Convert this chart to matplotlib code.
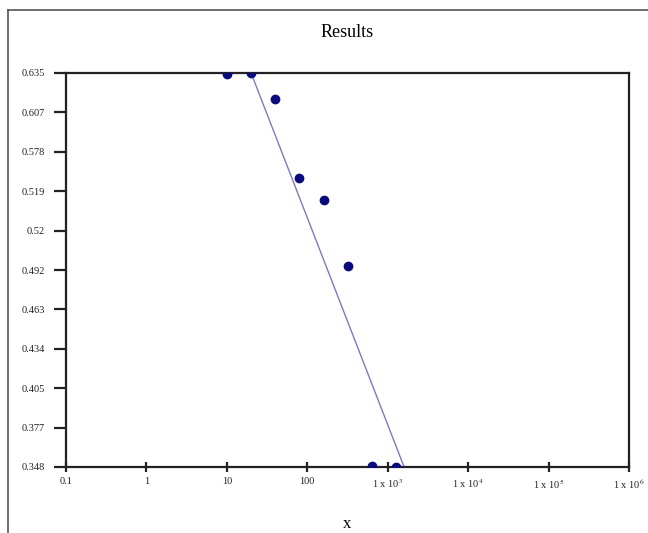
import matplotlib
matplotlib.use("Agg")
import matplotlib.pyplot as plt
from matplotlib.lines import Line2D
import numpy as np

x_points = [10, 20, 40, 80, 160, 320, 640, 1280]
y_points = [0.634, 0.635, 0.616, 0.5585, 0.5425, 0.4944, 0.3487, 0.348]

fit_x = [20, 1600]
fit_y = [0.635, 0.348]

y_tick_labels = ["0.635", "0.607", "0.578", "0.519", "0.52", "0.492",
                 "0.463", "0.434", "0.405", "0.377", "0.348"]
x_ticks = [0.1, 1, 10, 100, 1e3, 1e4, 1e5, 1e6]
x_tick_labels = ["0.1", "1", "10", "100", r"1 x 10$^{3}$", r"1 x 10$^{4}$",
                 r"1 x 10$^{5}$", r"1 x 10$^{6}$"]

plt.rcParams['font.family'] = ['Liberation Serif', 'DejaVu Serif']
plt.rcParams['mathtext.fontset'] = 'stix'

fig = plt.figure(figsize=(6.48, 5.33), dpi=100)
ax = fig.add_axes([66/648, 1-467/533, (629-66)/648, (467-73)/533])

ax.plot(fit_x, fit_y, color="#7878dc", lw=1.0, zorder=2)
ax.plot(x_points, y_points, 'o', color="#0a0a80", markersize=6, zorder=3)

ax.set_xscale('log')
ax.set_xlim(0.1, 1e6)
ax.set_ylim(0.348, 0.635)
ax.set_xticks(x_ticks)
ax.set_xticklabels(x_tick_labels)
ax.xaxis.set_minor_locator(matplotlib.ticker.NullLocator())
yt = np.linspace(0.635, 0.348, len(y_tick_labels))
ax.set_yticks(yt)
ax.set_yticklabels(y_tick_labels)

for s in ax.spines.values():
    s.set_linewidth(1.6)
    s.set_color("#222222")
ax.tick_params(axis='y', direction='out', length=9, width=1.6, labelsize=7.5, pad=6, colors="#222222")
ax.tick_params(axis='x', direction='inout', length=7, width=1.6, labelsize=7.5, pad=4, colors="#222222")

ax.set_title("Results", fontsize=13, pad=26)
ax.set_xlabel("x", fontsize=12)
ax.xaxis.set_label_coords(0.5, -(524-467)/(467-73))
ax.xaxis.label.set_va('center')

# figure border lines (top and left)
fig.add_artist(Line2D([8/648, 1], [1-10/533, 1-10/533], color="#555555", lw=1.2, transform=fig.transFigure))
fig.add_artist(Line2D([8/648, 8/648], [0, 1-10/533], color="#555555", lw=1.2, transform=fig.transFigure))

fig.savefig("out.png", dpi=100)
